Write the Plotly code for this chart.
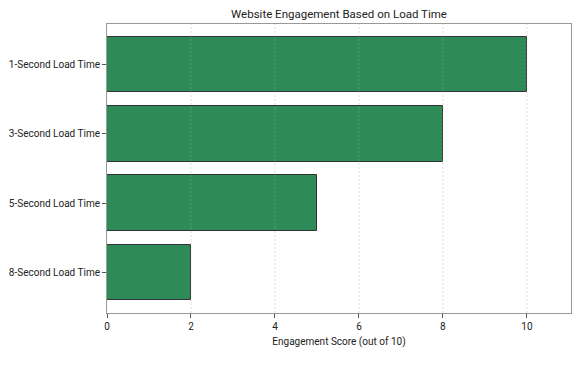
import plotly.graph_objects as go

categories = ["1-Second Load Time", "3-Second Load Time", "5-Second Load Time", "8-Second Load Time"]
scores = [10, 8, 5, 2]
x_ticks = [0, 2, 4, 6, 8, 10]

fig = go.Figure()
fig.add_trace(go.Bar(
    y=list(range(len(categories))), x=scores, orientation="h", width=0.8,
    marker=dict(color="#2E8B57", line=dict(color="#333333", width=1)),
))
# dashed gridlines drawn above the bars (as in the reference)
for v in x_ticks[1:]:
    fig.add_shape(type="line", xref="x", yref="paper", x0=v, x1=v, y0=0, y1=1,
                  layer="above", line=dict(color="rgba(170,170,170,0.55)", width=0.8, dash="2px,2px"))
fig.update_layout(
    width=580, height=365,
    margin=dict(l=107, r=9, t=24, b=52),
    paper_bgcolor="white", plot_bgcolor="white",
    font=dict(family="Roboto, Inter, sans-serif", size=10, color="#222"),
    title=dict(text="Website Engagement Based on Load Time", x=0.5, xref="paper",
               y=1 - 14/365, yanchor="middle", font=dict(size=11.5, color="#222")),
    showlegend=False,
    bargap=0,
)
fig.update_xaxes(
    range=[0, 11.05], tickvals=x_ticks, ticktext=[str(v) for v in x_ticks],
    showgrid=False,
    showline=True, linecolor="#999999", linewidth=1, mirror=True,
    ticks="outside", ticklen=4, tickcolor="#555", zeroline=False,
    title=dict(text="Engagement Score (out of 10)", font=dict(size=10), standoff=6),
)
fig.update_yaxes(
    range=[3.59, -0.59], tickvals=list(range(len(categories))), ticktext=categories,
    showgrid=False, showline=True, linecolor="#999999", linewidth=1, mirror=True,
    ticks="outside", ticklen=4, tickcolor="#555", zeroline=False,
)
fig.write_html("out.html")
